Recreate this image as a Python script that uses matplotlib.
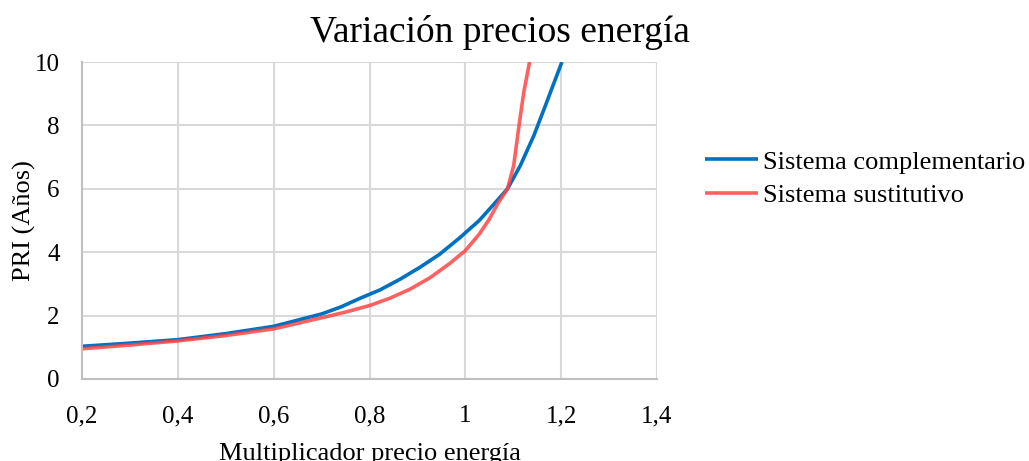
import matplotlib.pyplot as plt
from matplotlib.ticker import FuncFormatter

plt.rcParams['font.family'] = ['Liberation Serif', 'DejaVu Serif']

# datos
x_comp = [0.2, 0.3, 0.4, 0.5, 0.6, 0.7, 0.74, 0.781, 0.822, 0.863, 0.905, 0.946, 0.988,
          1.029, 1.06, 1.088, 1.115, 1.143, 1.17, 1.2015]
y_comp = [1.03, 1.13, 1.24, 1.43, 1.66, 2.05, 2.27, 2.55, 2.81, 3.14, 3.52, 3.93, 4.45,
          5.0, 5.52, 6.0, 6.74, 7.68, 8.74, 10.0]

x_sust = [0.2, 0.3, 0.4, 0.5, 0.6, 0.7, 0.75, 0.801, 0.843, 0.884, 0.926, 0.967, 1.0,
          1.029, 1.05, 1.068, 1.088, 1.101, 1.112, 1.122, 1.134]
y_sust = [0.95, 1.07, 1.2, 1.37, 1.58, 1.93, 2.11, 2.32, 2.55, 2.83, 3.19, 3.64, 4.05,
          4.57, 5.04, 5.54, 6.0, 6.74, 8.0, 9.05, 10.0]

series_names = ['Sistema complementario', 'Sistema sustitutivo']
x_ticks = [0.2, 0.4, 0.6, 0.8, 1.0, 1.2, 1.4]
y_ticks = [0, 2, 4, 6, 8, 10]

fig = plt.figure(figsize=(10.29, 4.61), dpi=100)
ax = fig.add_axes([0.0797, 0.178, 0.5588, 0.6875])

ax.plot(x_comp, y_comp, color='#0070C0', lw=2.6, label=series_names[0],
        solid_capstyle='butt', solid_joinstyle='round')
ax.plot(x_sust, y_sust, color='#FF4545', lw=2.6, alpha=0.85, label=series_names[1],
        solid_capstyle='butt', solid_joinstyle='round')

ax.set_xlim(0.2, 1.4)
ax.set_ylim(0, 10)
ax.set_xticks(x_ticks)
ax.set_yticks(y_ticks)
fmt = lambda v, p: ('%g' % round(v, 2)).replace('.', ',')
ax.xaxis.set_major_formatter(FuncFormatter(fmt))
ax.yaxis.set_major_formatter(FuncFormatter(fmt))
ax.tick_params(length=0, labelsize=18)
ax.tick_params(axis='x', pad=19)
ax.tick_params(axis='y', pad=16)
ax.grid(True, color='#D9D9D9', lw=1.5)
ax.set_axisbelow(True)
for s in ['top', 'right']:
    ax.spines[s].set_visible(False)
for s in ['left', 'bottom']:
    ax.spines[s].set_color('#BFBFBF')
    ax.spines[s].set_linewidth(1.5)

ax.set_xlabel('Multiplicador precio energía', fontsize=19, labelpad=11)
ax.set_ylabel('PRI (Años)', fontsize=19, labelpad=-1)
fig.text(0.486, 0.93, 'Variación precios energía', fontsize=27, ha='center', va='center')

fig.legend(loc='upper left', bbox_to_anchor=(0.675, 0.697), frameon=False, fontsize=19,
           handlelength=2.0, handletextpad=0.2, labelspacing=0.38, borderaxespad=0)

fig.savefig('out.png', dpi=100)
